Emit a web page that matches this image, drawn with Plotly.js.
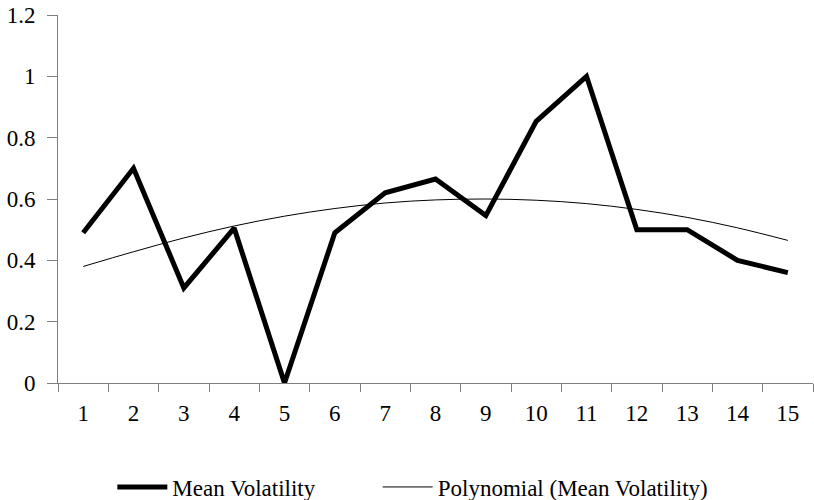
<!DOCTYPE html>
<html>
<head>
<meta charset="utf-8">
<script src="https://cdn.plot.ly/plotly-3.0.1.min.js"></script>
<style>html,body{margin:0;padding:0;background:#fff;}#chart{width:814px;height:500px;}</style>
</head>
<body>
<div id="chart"></div>
<script>
const categories = ["1","2","3","4","5","6","7","8","9","10","11","12","13","14","15"];
const meanVolatility = [0.49,0.70,0.31,0.505,0.0,0.49,0.62,0.665,0.546,0.853,1.0,0.50,0.50,0.40,0.36];
const polynomialTrend = [0.38,0.428,0.473,0.512,0.544,0.569,0.587,0.597,0.600,0.596,0.585,0.566,0.540,0.506,0.465];
const yTicks = [0,0.2,0.4,0.6,0.8,1,1.2];
const yTickLabels = ["0","0.2","0.4","0.6","0.8","1","1.2"];

const font = {family: "Times New Roman, Liberation Serif, serif", size: 23, color: "#000"};

const traces = [
  {x: categories, y: meanVolatility, type: "scatter", mode: "lines", name: "Mean Volatility",
   line: {color: "#000", width: 5}, legend: "legend"},
  {x: categories, y: polynomialTrend, type: "scatter", mode: "lines", name: "Polynomial (Mean Volatility)",
   line: {color: "#000", width: 1, shape: "spline"}, legend: "legend2"}
];

const legendBase = {orientation: "h", xanchor: "left", xref: "container",
  y: 0.026, yanchor: "middle", yref: "container", font: font, itemwidth: 50, bgcolor: "rgba(0,0,0,0)"};

const layout = {
  width: 814, height: 500,
  margin: {l: 58, r: 1, t: 15, b: 117},
  paper_bgcolor: "#fff", plot_bgcolor: "#fff",
  font: font,
  showlegend: true,
  legend: Object.assign({}, legendBase, {x: 0.138}),
  legend2: Object.assign({}, legendBase, {x: 0.464}),
  xaxis: {type: "category", range: [-0.5, 14.5], tickson: "boundaries", ticks: "outside", ticklen: 8, tickcolor: "#808080",
          showline: true, linecolor: "#808080", linewidth: 1, showgrid: false, zeroline: false,
          tickfont: font, ticklabelstandoff: 9, fixedrange: true},
  yaxis: {range: [0, 1.2], tickmode: "array", tickvals: yTicks, ticktext: yTickLabels,
          ticks: "outside", ticklen: 10, tickcolor: "#808080",
          showline: true, linecolor: "#808080", linewidth: 1, showgrid: false, zeroline: false,
          tickfont: font, ticklabelstandoff: 7, fixedrange: true}
};

Plotly.newPlot("chart", traces, layout, {displayModeBar: false, staticPlot: true});
</script>
</body>
</html>
